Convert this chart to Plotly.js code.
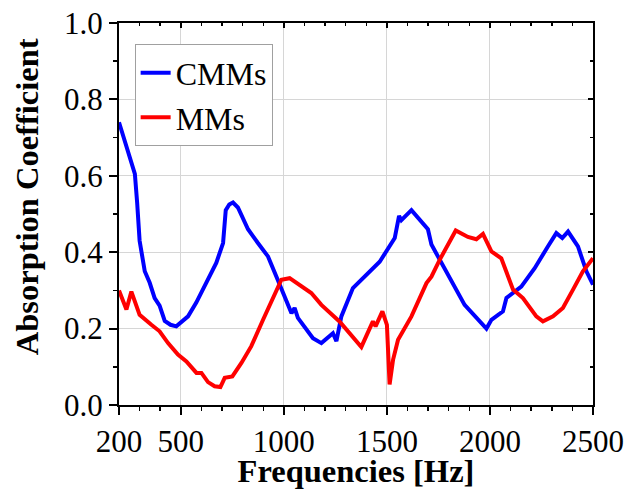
<!DOCTYPE html>
<html>
<head>
<meta charset="utf-8">
<script src="https://cdn.plot.ly/plotly-3.0.1.min.js"></script>
<style>
html,body{margin:0;padding:0;background:#fff;}
#chart{width:627px;height:489px;}
</style>
</head>
<body>
<div id="chart"></div>
<script>
const cmmsFreq = [200,277,288,300,325,349,373,397,422,450,478,535,575,624,672,705,718,735,753,777,826,874,923,964,1004,1037,1052,1068,1141,1182,1238,1255,1279,1335,1465,1538,1559,1570,1619,1699,1716,1813,1877,1983,2007,2063,2080,2152,2217,2281,2322,2351,2379,2427,2468,2500];
const cmmsAbs  = [0.74,0.605,0.53,0.43,0.35,0.32,0.28,0.26,0.22,0.21,0.206,0.232,0.268,0.32,0.372,0.424,0.51,0.525,0.53,0.517,0.46,0.424,0.389,0.336,0.284,0.24,0.254,0.228,0.175,0.162,0.188,0.167,0.232,0.306,0.375,0.437,0.495,0.484,0.51,0.46,0.42,0.323,0.262,0.2,0.223,0.245,0.28,0.31,0.358,0.415,0.45,0.437,0.454,0.415,0.35,0.315];
const mmsFreq = [200,236,260,300,357,397,438,486,527,576,600,632,664,692,713,750,794,842,899,947,988,1028,1133,1182,1238,1271,1376,1432,1445,1478,1500,1513,1530,1554,1619,1692,1716,1756,1834,1893,1934,1966,2007,2055,2112,2160,2225,2257,2306,2354,2403,2451,2500];
const mmsAbs  = [0.30,0.25,0.297,0.236,0.21,0.193,0.162,0.132,0.114,0.084,0.084,0.06,0.049,0.047,0.071,0.075,0.11,0.154,0.223,0.28,0.328,0.332,0.293,0.262,0.236,0.218,0.152,0.219,0.206,0.245,0.21,0.054,0.119,0.171,0.232,0.319,0.336,0.38,0.457,0.44,0.434,0.448,0.402,0.384,0.302,0.28,0.232,0.219,0.232,0.254,0.302,0.35,0.384];
const xTickVals = [200,500,1000,1500,2000,2500];
const xTickText = ['200','500','1000','1500','2000','2500'];
const seriesNames = ['CMMs','MMs'];
const xTitle = 'Frequencies [Hz]';
const yTitle = 'Absorption Coefficient';

const traces = [
  {x: cmmsFreq, y: cmmsAbs, name: seriesNames[0], mode: 'lines', line: {color: '#0000ff', width: 4}},
  {x: mmsFreq, y: mmsAbs, name: seriesNames[1], mode: 'lines', line: {color: '#ff0000', width: 4}},
  {x: [], y: [], xaxis: 'x2', yaxis: 'y2', showlegend: false, hoverinfo: 'skip'}
];

const layout = {
  width: 627, height: 489,
  margin: {l: 119, r: 34, t: 23, b: 84},
  paper_bgcolor: '#fff', plot_bgcolor: '#fff',
  font: {family: 'Liberation Serif', color: '#000', size: 31},
  showlegend: true,
  legend: {x: 0.033, y: 0.944, xanchor: 'left', yanchor: 'top', bgcolor: '#fff', bordercolor: '#a0a0a0', borderwidth: 1, font: {size: 32}, tracegroupgap: 0},
  annotations: [{
    text: '<b>' + yTitle + '</b>', xref: 'paper', yref: 'paper', x: -0.194, y: 0.544,
    xanchor: 'center', yanchor: 'middle', textangle: -90, showarrow: false,
    font: {size: 32.5}
  }],
  xaxis: {
    range: [200, 2500], tickmode: 'array', tickvals: xTickVals, ticktext: xTickText,
    ticks: 'outside', ticklen: 8, tickwidth: 2, tickcolor: '#000',
    showline: true, linewidth: 2, linecolor: '#000', zeroline: false,
    showgrid: true, gridcolor: '#d6d6d6', gridwidth: 1,
    minor: {tickmode: 'linear', tick0: 200, dtick: 100, ticks: 'outside', ticklen: 4, tickwidth: 1.5, tickcolor: '#000', showgrid: false},
    tickfont: {size: 31},
    title: {text: '<b>' + xTitle + '</b>', font: {size: 32.5}, standoff: 7},
    automargin: false
  },
  xaxis2: {
    overlaying: 'x', side: 'top', anchor: 'y', range: [200, 2500], tickmode: 'array', tickvals: xTickVals,
    ticks: 'inside', ticklen: 5, tickwidth: 2, tickcolor: '#000', showticklabels: false,
    showline: true, linewidth: 2, linecolor: '#000', showgrid: false, zeroline: false,
    minor: {tickmode: 'linear', tick0: 200, dtick: 100, ticks: 'inside', ticklen: 3, tickwidth: 1.5, tickcolor: '#000', showgrid: false}
  },
  yaxis: {
    range: [0, 1], tickmode: 'linear', tick0: 0, dtick: 0.2, tickformat: '.1f',
    ticks: 'outside', ticklen: 8, tickwidth: 2, tickcolor: '#000',
    showline: true, linewidth: 2, linecolor: '#000', zeroline: false,
    showgrid: true, gridcolor: '#d6d6d6', gridwidth: 1,
    minor: {tickmode: 'linear', tick0: 0, dtick: 0.1, ticks: 'outside', ticklen: 4, tickwidth: 1.5, tickcolor: '#000', showgrid: false},
    tickfont: {size: 31},
    automargin: false
  },
  yaxis2: {
    overlaying: 'y', side: 'right', anchor: 'x', range: [0, 1], tickmode: 'linear', tick0: 0, dtick: 0.2,
    ticks: 'inside', ticklen: 5, tickwidth: 2, tickcolor: '#000', showticklabels: false,
    showline: true, linewidth: 2, linecolor: '#000', showgrid: false, zeroline: false,
    minor: {tickmode: 'linear', tick0: 0, dtick: 0.1, ticks: 'inside', ticklen: 3, tickwidth: 1.5, tickcolor: '#000', showgrid: false}
  }
};

Plotly.newPlot('chart', traces, layout, {staticPlot: true, displayModeBar: false});
</script>
</body>
</html>
